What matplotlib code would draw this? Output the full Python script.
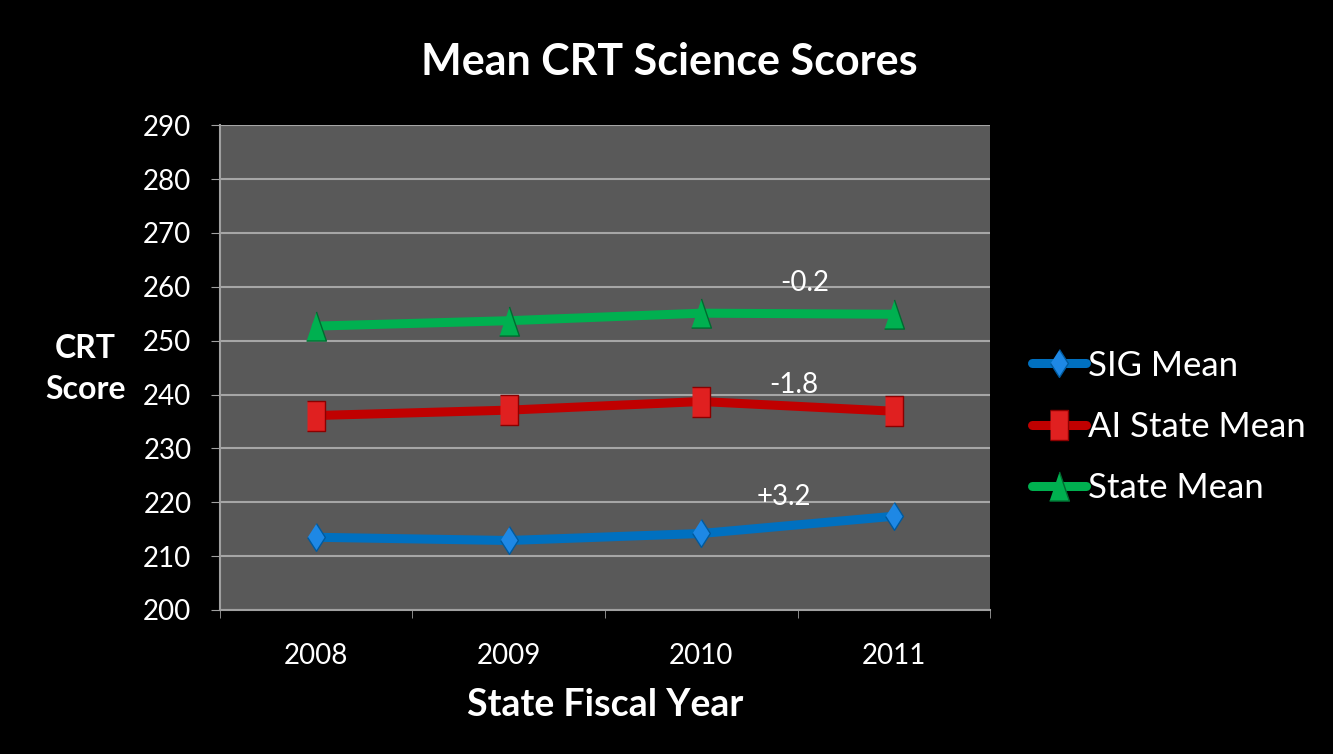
import matplotlib
matplotlib.use("Agg")
import matplotlib.pyplot as plt
import numpy as np

years = ["2008", "2009", "2010", "2011"]
sig_mean = [213.5, 212.9, 214.2, 217.4]
ai_state_mean = [236.1, 237.1, 238.7, 236.9]
state_mean = [252.7, 253.7, 255.1, 254.9]
series_names = ["SIG Mean", "AI State Mean", "State Mean"]
change_labels = ["+3.2", "-1.8", "-0.2"]
yticks = list(range(200, 291, 10))

plt.rcParams['font.family'] = ['Lato', 'DejaVu Sans']

fig = plt.figure(figsize=(13.33, 7.54), dpi=100, facecolor='black')
ax = fig.add_axes([0.165, 0.191, 0.5777, 0.643])
ax.set_facecolor('#595959')

diamond = [(0, 0.5), (0.32, 0), (0, -0.5), (-0.32, 0)]
rect = [(-0.32, -0.5), (0.32, -0.5), (0.32, 0.5), (-0.32, 0.5)]
tri = [(-0.34, -0.5), (0.34, -0.5), (0, 0.5)]

x = np.arange(len(years))
styles = [
    dict(color='#0070C0', marker=diamond, ms=20, mfc='#1E88E5', mec='#005A9E'),
    dict(color='#C00000', marker=rect, ms=21, mfc='#E02020', mec='#8B0000'),
    dict(color='#00B050', marker=tri, ms=21, mfc='#00B050', mec='#006B30'),
]
for vals, name, st in zip([sig_mean, ai_state_mean, state_mean], series_names, styles):
    ax.plot(x, vals, lw=6.5, solid_capstyle='round', label=name,
            color=st['color'], marker=st['marker'], markersize=st['ms'],
            markerfacecolor=st['mfc'], markeredgecolor=st['mec'], markeredgewidth=1)

ax.set_xlim(-0.5, 3.5)
ax.set_ylim(200, 290)
ax.set_yticks(yticks)
ax.set_xticks(x)
ax.set_xticklabels(years)
ax.set_xticks(np.arange(-0.5, 4, 1), minor=True)
ax.tick_params(axis='x', which='major', length=0, pad=24, colors='white', labelsize=20)
ax.tick_params(axis='x', which='minor', length=6, color='#A0A0A0', direction='out')
ax.tick_params(axis='y', length=6.5, color='#A0A0A0', colors='white', labelsize=20, pad=14)
ax.grid(axis='y', color='#A6A6A6', lw=1.5)
ax.set_axisbelow(True)
for s in ['top', 'right']:
    ax.spines[s].set_visible(False)
for s in ['left', 'bottom']:
    ax.spines[s].set_color('#A0A0A0')
    ax.spines[s].set_linewidth(1.5)

# change annotations
ann_pos = [(2.43, 220.9), (2.48, 241.7), (2.54, 260.7)]
for (ax_x, ax_y), t in zip(ann_pos, change_labels):
    ax.text(ax_x, ax_y, t, color='white', fontsize=20, ha='center', va='center')

fig.text(0.502, 0.918, "Mean CRT Science Scores", color='white', fontsize=31,
         fontweight='bold', ha='center', va='center')
fig.text(0.064, 0.51, "CRT\nScore", color='white', fontsize=23, fontweight='bold',
         ha='center', va='center', linespacing=1.5)
fig.text(0.454, 0.065, "State Fiscal Year", color='white', fontsize=27,
         fontweight='bold', ha='center', va='center')

leg = fig.legend(loc='center left', bbox_to_anchor=(0.751, 0.434), frameon=False,
                 fontsize=25, labelcolor='white', handlelength=1.55, handletextpad=0.05,
                 labelspacing=0.84, markerscale=1.0)

fig.savefig("out.png", dpi=100, facecolor='black')
